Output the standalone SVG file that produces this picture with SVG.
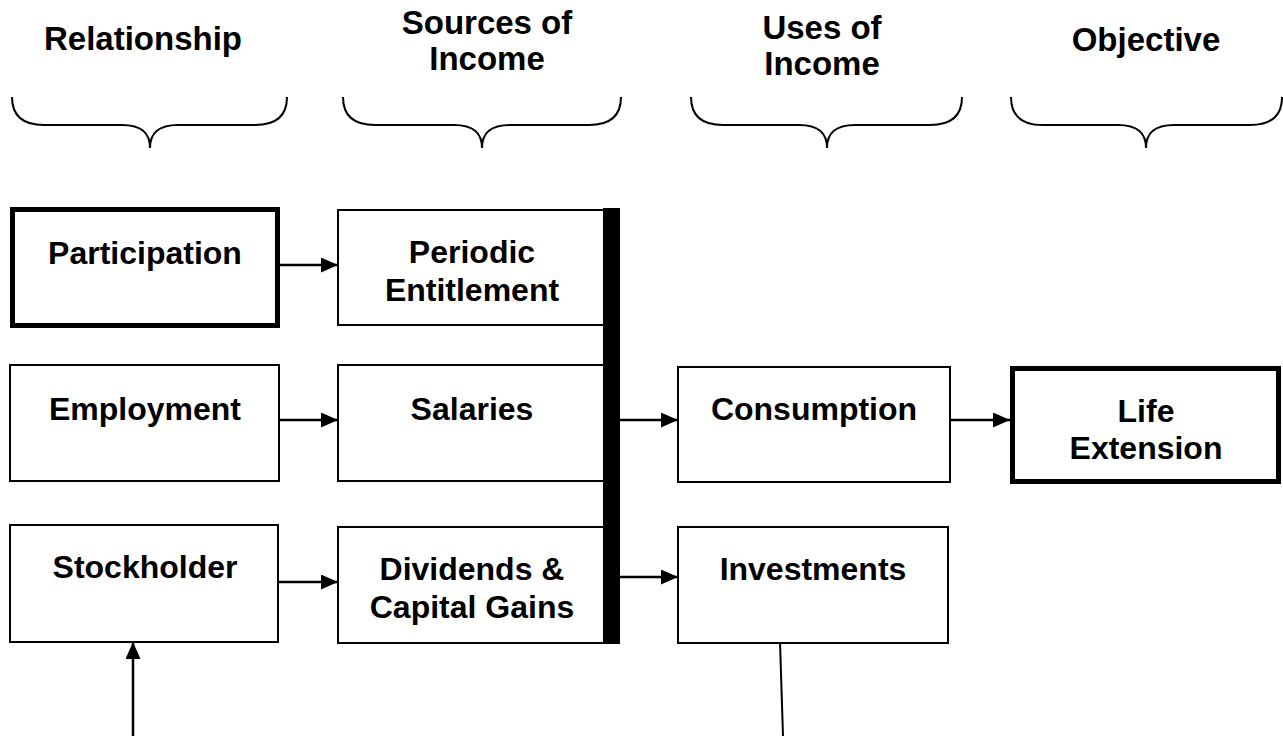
<svg xmlns="http://www.w3.org/2000/svg" width="1283" height="736" viewBox="0 0 1283 736">
<defs>
<style>
text{font-family:"Liberation Sans",Arial,sans-serif;font-weight:bold;font-size:32px;fill:#000;text-anchor:middle}
.hdr{font-size:33px}
.box{fill:#fff;stroke:#000;stroke-width:2}
.thick{fill:#fff;stroke:#000;stroke-width:5}
.brace{fill:none;stroke:#000;stroke-width:2}
.conn{fill:none;stroke:#000;stroke-width:2.5}
</style>
<marker id="ah" viewBox="0 0 17 15" refX="17" refY="7.5" markerWidth="17" markerHeight="15" markerUnits="userSpaceOnUse" orient="auto">
<path d="M0,0 L17,7.5 L0,15 Z" fill="#000"/>
</marker>
</defs>
<rect width="1283" height="736" fill="#fff"/>
<g id="headers">
<text class="hdr" x="143" y="50">Relationship</text>
<text class="hdr" x="487" y="34">Sources of</text>
<text class="hdr" x="487" y="70">Income</text>
<text class="hdr" x="822" y="39">Uses of</text>
<text class="hdr" x="822" y="75">Income</text>
<text class="hdr" x="1146" y="51">Objective</text>
</g>
<g id="braces">
<path class="brace" d="M12,97 C12,117 24,125 44,125 L122,125 C142,125 150,133 150,148 C150,133 158,125 178,125 L255,125 C275,125 287,117 287,97"/>
<path class="brace" d="M343,97 C343,117 355,125 375,125 L454,125 C474,125 482,133 482,148 C482,133 490,125 510,125 L589,125 C609,125 621,117 621,97"/>
<path class="brace" d="M691,97 C691,117 703,125 723,125 L799,125 C819,125 827,133 827,148 C827,133 835,125 855,125 L930,125 C950,125 962,117 962,97"/>
<path class="brace" d="M1011,97 C1011,117 1023,125 1043,125 L1118,125 C1138,125 1146,133 1146,148 C1146,133 1154,125 1174,125 L1250,125 C1270,125 1282,117 1282,97"/>
</g>
<g id="connectors">
<line class="conn" x1="280" y1="265" x2="338" y2="265" marker-end="url(#ah)"/>
<line class="conn" x1="279" y1="420" x2="338" y2="420" marker-end="url(#ah)"/>
<line class="conn" x1="278" y1="582" x2="338" y2="582" marker-end="url(#ah)"/>
<line class="conn" x1="620" y1="420" x2="678" y2="420" marker-end="url(#ah)"/>
<line class="conn" x1="950" y1="420" x2="1010" y2="420" marker-end="url(#ah)"/>
<line class="conn" x1="620" y1="577" x2="678" y2="577" marker-end="url(#ah)"/>
<line class="conn" x1="133" y1="736" x2="133" y2="642" marker-end="url(#ah)"/>
<line x1="780" y1="642" x2="783" y2="736" stroke="#000" stroke-width="2"/>
</g>
<g id="participation"><rect class="thick" x="12.5" y="209.5" width="265" height="116"/><text x="145" y="264">Participation</text></g>
<g id="periodic"><rect class="box" x="338" y="210" width="267" height="115"/><text x="472" y="263">Periodic</text><text x="472" y="301">Entitlement</text></g>
<g id="employment"><rect class="box" x="10" y="365" width="269" height="116"/><text x="145" y="420">Employment</text></g>
<g id="salaries"><rect class="box" x="338" y="365" width="267" height="116"/><text x="472" y="420">Salaries</text></g>
<g id="consumption"><rect class="box" x="678" y="367" width="272" height="115"/><text x="814" y="420">Consumption</text></g>
<g id="life"><rect class="thick" x="1012.5" y="368.5" width="266" height="113"/><text x="1146" y="422">Life</text><text x="1146" y="459">Extension</text></g>
<g id="stockholder"><rect class="box" x="10" y="525" width="268" height="117"/><text x="145" y="578">Stockholder</text></g>
<g id="dividends"><rect class="box" x="338" y="527" width="267" height="116"/><text x="472" y="580">Dividends &amp;</text><text x="472" y="618">Capital Gains</text></g>
<g id="investments"><rect class="box" x="678" y="527" width="270" height="116"/><text x="813" y="580">Investments</text></g>
<g id="bar"><rect x="603" y="208" width="17" height="436" fill="#000"/></g>
</svg>
